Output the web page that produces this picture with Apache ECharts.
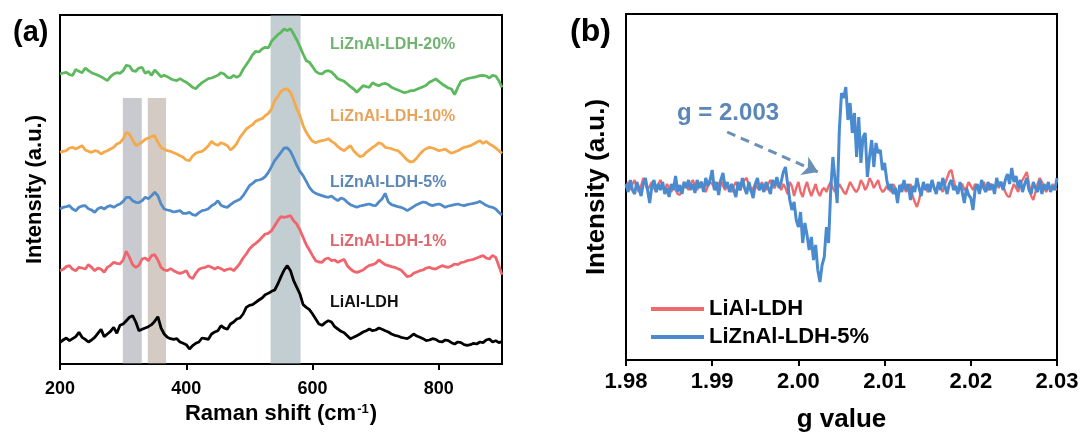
<!DOCTYPE html>
<html>
<head>
<meta charset="utf-8">
<script src="https://cdn.jsdelivr.net/npm/echarts@6/dist/echarts.min.js"></script>
<style>
  html, body { margin: 0; padding: 0; background: #fff; }
  #chart { width: 1081px; height: 432px; }
</style>
</head>
<body>
<div id="chart"></div>
<script>
// ---- (a) Raman spectra (offset intensity, arb. units) ----
const ramanShift = [
  200, 205, 210, 215, 220, 225, 230, 235, 240, 245,
  250, 255, 260, 265, 270, 275, 280, 285, 290, 295,
  300, 305, 310, 315, 320, 325, 330, 335, 340, 345,
  350, 355, 360, 365, 370, 375, 380, 385, 390, 395,
  400, 405, 410, 415, 420, 425, 430, 435, 440, 445,
  450, 455, 460, 465, 470, 475, 480, 485, 490, 495,
  500, 505, 510, 515, 520, 525, 530, 535, 540, 545,
  550, 555, 560, 565, 570, 575, 580, 585, 590, 595,
  600, 605, 610, 615, 620, 625, 630, 635, 640, 645,
  650, 655, 660, 665, 670, 675, 680, 685, 690, 695,
  700, 705, 710, 715, 720, 725, 730, 735, 740, 745,
  750, 755, 760, 765, 770, 775, 780, 785, 790, 795,
  800, 805, 810, 815, 820, 825, 830, 835, 840, 845,
  850, 855, 860, 865, 870, 875, 880, 885, 890, 895,
  900
];
const ramanLiAl = [
  65, 72, 78, 70, 76, 82, 95, 80, 74, 66,
  72, 80, 92, 104, 82, 90, 98, 110, 92, 116,
  120, 130, 140, 145, 126, 100, 104, 108, 112, 118,
  128, 142, 108, 90, 80, 76, 74, 76, 66, 62,
  58, 45, 55, 62, 66, 78, 76, 74, 90, 96,
  100, 115, 108, 104, 120, 126, 135, 138, 150, 170,
  176, 178, 185, 192, 198, 208, 212, 218, 222, 240,
  262, 282, 295, 280, 250, 230, 210, 178, 170, 163,
  150, 135, 120, 116, 124, 130, 126, 112, 105, 98,
  94, 85, 76, 80, 85, 90, 96, 100, 105, 100,
  102, 108, 104, 100, 96, 90, 86, 84, 80, 78,
  76, 82, 90, 84, 80, 76, 70, 72, 76, 74,
  68, 66, 72, 70, 64, 60, 66, 64, 58, 56,
  58, 62, 60, 66, 64, 72, 75, 66, 70, 64,
  67
];
const raman1 = [
  280, 284, 292, 295, 284, 280, 290, 288, 285, 298,
  290, 280, 288, 284, 275, 290, 296, 305, 302, 300,
  312, 338, 320, 298, 290, 296, 315, 318, 310, 325,
  328, 312, 290, 282, 280, 286, 280, 275, 272, 275,
  280, 262, 256, 272, 284, 288, 290, 294, 290, 285,
  290, 286, 280, 284, 286, 280, 290, 302, 318, 330,
  345, 355, 362, 370, 380, 390, 392, 400, 415, 430,
  442, 440, 442, 445, 430, 420, 402, 380, 358, 342,
  325, 310, 306, 305, 315, 318, 310, 312, 305, 310,
  314, 295, 285, 278, 275, 278, 282, 290, 296, 298,
  302, 312, 305, 298, 295, 292, 290, 286, 282, 272,
  262, 264, 272, 276, 280, 282, 288, 290, 286, 285,
  290, 295, 292, 290, 294, 300, 298, 304, 306, 310,
  312, 314, 318, 322, 325, 318, 315, 326, 320, 295,
  268
];
const raman5 = [
  465, 470, 472, 475, 465, 460, 470, 474, 475, 466,
  462, 455, 466, 470, 465, 472, 475, 470, 476, 480,
  488, 500, 500, 490, 485, 484, 490, 500, 496, 505,
  515, 505, 480, 465, 462, 460, 456, 458, 460, 452,
  452, 455, 448, 446, 454, 460, 462, 466, 475, 480,
  490, 476, 472, 470, 478, 485, 490, 494, 505, 520,
  535, 542, 550, 552, 555, 562, 575, 592, 610, 622,
  635, 648, 648, 638, 618, 596, 578, 565, 548, 530,
  518, 512, 508, 505, 502, 500, 504, 496, 490, 498,
  494, 485, 478, 474, 470, 474, 476, 478, 480, 476,
  475, 486, 495, 512, 486, 478, 475, 472, 470, 466,
  460, 466, 472, 478, 482, 486, 484, 478, 475, 478,
  480, 476, 470, 474, 476, 478, 480, 477, 475, 478,
  480, 482, 484, 488, 482, 476, 472, 470, 465, 455,
  447
];
const raman10 = [
  635, 638, 640, 648, 650, 645, 650, 655, 642, 638,
  635, 640, 638, 630, 636, 640, 645, 650, 660, 664,
  675, 695, 690, 672, 655, 660, 666, 674, 678, 682,
  685, 665, 650, 644, 640, 638, 634, 630, 625, 620,
  612, 610, 624, 632, 636, 638, 645, 655, 668, 660,
  656, 664, 660, 655, 642, 650, 662, 680, 692, 705,
  712, 718, 728, 733, 736, 745, 752, 765, 790, 802,
  818, 824, 825, 815, 792, 765, 745, 715, 695, 680,
  668, 664, 668, 670, 672, 676, 668, 662, 652, 645,
  640, 648, 655, 640, 630, 622, 625, 635, 642, 650,
  656, 664, 660, 650, 648, 646, 642, 640, 632, 622,
  612, 606, 608, 618, 630, 640, 646, 650, 648, 644,
  640, 642, 645, 638, 632, 636, 640, 645, 650, 652,
  655, 660, 665, 670, 662, 668, 660, 655, 648, 640,
  632
];
const raman20 = [
  870, 873, 875, 868, 866, 884, 878, 874, 888, 880,
  874, 870, 866, 862, 856, 850, 862, 870, 874, 872,
  880, 896, 894, 880, 878, 888, 890, 872, 878, 866,
  882, 872, 862, 866, 862, 856, 852, 850, 856, 850,
  845, 838, 830, 826, 836, 844, 850, 856, 858, 862,
  866, 874, 870, 860, 858, 866, 860, 866, 884, 898,
  912, 928, 938, 936, 945, 950, 948, 968, 978, 988,
  995, 1005, 1000, 1006, 990, 972, 952, 930, 910, 905,
  892, 878, 872, 870, 878, 880, 876, 866, 856, 852,
  848, 840, 832, 825, 815, 825, 835, 832, 830, 844,
  838, 835, 840, 842, 838, 830, 826, 822, 818, 814,
  816, 820, 820, 824, 828, 832, 836, 845, 850, 855,
  848, 840, 834, 828, 825, 808, 830, 848, 852, 856,
  858, 860, 862, 865, 866, 864, 858, 866, 864, 850,
  830
];
const ramanNames = ['LiAl-LDH', 'LiZnAl-LDH-1%', 'LiZnAl-LDH-5%', 'LiZnAl-LDH-10%', 'LiZnAl-LDH-20%'];
// shaded bands (cm-1)
const bandStart = [299.5, 339, 533.5];
const bandEnd = [329.5, 368, 581];

// ---- (b) EPR spectra ----
const gValue = [
  1.98, 1.98025, 1.9805, 1.98075, 1.981, 1.98125, 1.9815, 1.98175,
  1.982, 1.98225, 1.9825, 1.98275, 1.983, 1.98325, 1.9835, 1.98375,
  1.984, 1.98425, 1.9845, 1.98475, 1.985, 1.98525, 1.9855, 1.98575,
  1.986, 1.98625, 1.9865, 1.98675, 1.987, 1.98725, 1.9875, 1.98775,
  1.988, 1.98825, 1.9885, 1.98875, 1.989, 1.98925, 1.9895, 1.98975,
  1.99, 1.99025, 1.9905, 1.99075, 1.991, 1.99125, 1.9915, 1.99175,
  1.992, 1.99225, 1.9925, 1.99275, 1.993, 1.99325, 1.9935, 1.99375,
  1.994, 1.99425, 1.9945, 1.99475, 1.995, 1.99525, 1.9955, 1.99575,
  1.996, 1.99625, 1.9965, 1.99675, 1.997, 1.99725, 1.9975, 1.99775,
  1.998, 1.99825, 1.9985, 1.99875, 1.999, 1.99925, 1.9995, 1.99975,
  2.0, 2.00025, 2.0005, 2.00075, 2.001, 2.00125, 2.0015, 2.00175,
  2.002, 2.00225, 2.0025, 2.00275, 2.003, 2.00325, 2.0035, 2.00375,
  2.004, 2.00425, 2.0045, 2.00475, 2.005, 2.00525, 2.0055, 2.00575,
  2.006, 2.00625, 2.0065, 2.00675, 2.007, 2.00725, 2.0075, 2.00775,
  2.008, 2.00825, 2.0085, 2.00875, 2.009, 2.00925, 2.0095, 2.00975,
  2.01, 2.01025, 2.0105, 2.01075, 2.011, 2.01125, 2.0115, 2.01175,
  2.012, 2.01225, 2.0125, 2.01275, 2.013, 2.01325, 2.0135, 2.01375,
  2.014, 2.01425, 2.0145, 2.01475, 2.015, 2.01525, 2.0155, 2.01575,
  2.016, 2.01625, 2.0165, 2.01675, 2.017, 2.01725, 2.0175, 2.01775,
  2.018, 2.01825, 2.0185, 2.01875, 2.019, 2.01925, 2.0195, 2.01975,
  2.02, 2.02025, 2.0205, 2.02075, 2.021, 2.02125, 2.0215, 2.02175,
  2.022, 2.02225, 2.0225, 2.02275, 2.023, 2.02325, 2.0235, 2.02375,
  2.024, 2.02425, 2.0245, 2.02475, 2.025, 2.02525, 2.0255, 2.02575,
  2.026, 2.02625, 2.0265, 2.02675, 2.027, 2.02725, 2.0275, 2.02775,
  2.028, 2.02825, 2.0285, 2.02875, 2.029, 2.02925, 2.0295, 2.02975,
  2.03
];
const eprLiAl = [
  172, 178, 170, 176, 180, 172, 168, 174, 182, 176,
  170, 174, 178, 172, 168, 176, 180, 174, 170, 176,
  172, 168, 174, 170, 166, 165, 172, 178, 174, 170,
  176, 180, 174, 170, 176, 178, 172, 168, 174, 178,
  176, 172, 170, 176, 180, 174, 170, 176, 172, 168,
  174, 178, 172, 170, 176, 180, 182, 174, 168, 172,
  176, 172, 170, 178, 174, 170, 176, 180, 174, 172,
  178, 174, 170, 176, 172, 166, 178, 174, 164, 172,
  178, 168, 163, 172, 178, 170, 164, 170, 176, 168,
  164, 170, 172, 168, 174, 178, 172, 168, 170, 176,
  172, 168, 166, 172, 178, 174, 170, 168, 172, 180,
  176, 170, 174, 182, 178, 172, 176, 180, 172, 168,
  170, 174, 172, 168, 176, 172, 166, 170, 176, 172,
  168, 172, 176, 164, 158, 153, 160, 170, 176, 172,
  168, 174, 178, 172, 170, 176, 172, 168, 176, 182,
  188, 190, 180, 172, 168, 174, 176, 170, 172, 178,
  174, 170, 176, 172, 168, 174, 178, 172, 170, 176,
  174, 170, 176, 172, 178, 174, 168, 164, 163, 170,
  176, 172, 168, 176, 180, 184, 188, 176, 164, 160,
  168, 176, 182, 178, 172, 168, 174, 170, 176, 172,
  170
];
const eprLiZnAl5 = [
  176, 168, 180, 170, 166, 178, 172, 164, 176, 182,
  170, 157, 174, 180, 168, 176, 170, 178, 166, 172,
  163, 176, 170, 184, 168, 175, 166, 178, 172, 180,
  170, 176, 167, 180, 172, 178, 168, 182, 174, 180,
  190, 170, 178, 165, 180, 187, 172, 178, 168, 176,
  170, 163, 178, 170, 182, 172, 166, 178, 170, 162,
  176, 182, 170, 176, 168, 178, 172, 166, 180, 174,
  183, 172, 178, 188, 193, 176, 160, 150, 158, 140,
  133, 148, 117, 137, 125, 110, 123, 100, 115, 90,
  78, 95, 103, 133, 117, 170, 203, 180, 157, 230,
  267, 262, 273, 240, 257, 227, 247, 203, 243, 197,
  223, 227, 183, 203, 220, 193, 217, 207, 210, 190,
  197, 180, 170, 176, 166, 172, 157, 175, 168, 180,
  170, 176, 160, 174, 168, 182, 172, 164, 178, 170,
  176, 168, 180, 172, 166, 178, 170, 182, 174, 166,
  176, 180, 170, 174, 166, 178, 168, 157, 172, 165,
  162, 150, 170, 176, 166, 180, 172, 168, 178, 170,
  176, 166, 182, 174, 178, 170, 180, 186, 176, 192,
  178, 184, 172, 180, 168, 176, 182, 170, 166, 178,
  172, 168, 180, 166, 176, 170, 178, 168, 174, 170,
  182
];
const eprNames = ['LiAl-LDH', 'LiZnAl-LDH-5%'];
const gTicks = [1.98, 1.99, 2.0, 2.01, 2.02, 2.03];
// dashed arrow pointing at the g = 2.003 signal
const arrowFrom = [1.99173, 228];
const arrowTo = [2.00228, 188];

const FONT = 'Liberation Sans, Arial, Helvetica, sans-serif';
const ramanColors = ['#000000', '#f2646c', '#4f8bc9', '#f6a94a', '#5db95d'];
const labelColors = ['#111111', '#e0666e', '#5b87b8', '#e8a35c', '#72b372'];
// translucent, so the spectra show through tinted as in the figure
const bandColors = ['rgba(135,135,150,0.45)', 'rgba(160,140,125,0.45)', 'rgba(135,158,165,0.5)'];

const chart = echarts.init(document.getElementById('chart'));
const pairs = (xs, ys) => xs.map((x, i) => [x, ys[i]]);

const ramanData = [ramanLiAl, raman1, raman5, raman10, raman20];

const series = [
  {
    // bands only
    type: 'line', xAxisIndex: 0, yAxisIndex: 0, data: [], silent: true, z: 1,
    markArea: {
      silent: true,
      data: [
        [{ xAxis: bandStart[0], yAxis: 0, itemStyle: { color: bandColors[0] } }, { xAxis: bandEnd[0], yAxis: 798 }],
        [{ xAxis: bandStart[1], yAxis: 0, itemStyle: { color: bandColors[1] } }, { xAxis: bandEnd[1], yAxis: 798 }],
        [{ xAxis: bandStart[2], yAxis: 0, itemStyle: { color: bandColors[2] } }, { xAxis: bandEnd[2], yAxis: 1047 }]
      ]
    }
  }
];
ramanData.forEach((ys, k) => {
  series.push({
    name: 'Raman ' + ramanNames[k],
    type: 'line', xAxisIndex: 0, yAxisIndex: 0,
    data: pairs(ramanShift, ys),
    showSymbol: false, symbol: 'none', silent: true, z: 3,
    lineStyle: { color: ramanColors[k], width: 2.8 },
    itemStyle: { color: ramanColors[k] }
  });
});
series.push({
  name: eprNames[0],
  type: 'line', xAxisIndex: 1, yAxisIndex: 1,
  data: pairs(gValue, eprLiAl),
  showSymbol: false, symbol: 'none', silent: true, z: 3,
  lineStyle: { color: '#ef6a6c', width: 2.4 },
  itemStyle: { color: '#ef6a6c' }
});
series.push({
  name: eprNames[1],
  type: 'line', xAxisIndex: 1, yAxisIndex: 1,
  data: pairs(gValue, eprLiZnAl5),
  showSymbol: false, symbol: 'none', silent: true, z: 4,
  lineStyle: { color: '#4a8bd0', width: 3 },
  itemStyle: { color: '#4a8bd0' },
  markLine: {
    silent: true,
    symbol: ['none', 'arrow'],
    symbolSize: 15,
    label: { show: false },
    lineStyle: { color: '#6a90b8', width: 3, type: [9, 6] },
    data: [[{ coord: arrowFrom }, { coord: arrowTo }]]
  }
});

const labelTops = [295, 233.5, 175, 108.5, 37];
const graphic = ramanNames.map((t, k) => ({
  type: 'text', left: 330, top: labelTops[k], silent: true,
  style: { text: t, fill: labelColors[k], font: 'bold 16px ' + FONT }
}));
graphic.push(
  { type: 'text', left: 13, top: 18, style: { text: '(a)', fill: '#000', font: 'bold 29px ' + FONT } },
  { type: 'text', left: 570, top: 16, style: { text: '(b)', fill: '#000', font: 'bold 32px ' + FONT } },
  { type: 'text', left: 677, top: 101, style: { text: 'g = 2.003', fill: '#5a87b8', font: 'bold 24px ' + FONT } }
);

const axisLineStyle = { show: true, lineStyle: { color: '#000', width: 2 } };

chart.setOption({
  animation: false,
  backgroundColor: '#fff',
  textStyle: { fontFamily: FONT },
  grid: [
    { left: 60, top: 15, width: 442, height: 349, outerBoundsMode: 'none', show: true, borderColor: '#000', borderWidth: 2, backgroundColor: 'transparent' },
    { left: 626, top: 14, width: 431, height: 346, outerBoundsMode: 'none', show: true, borderColor: '#000', borderWidth: 2, backgroundColor: 'transparent' }
  ],
  legend: {
    data: eprNames,
    orient: 'vertical',
    left: 646, top: 293,
    icon: 'rect', itemWidth: 53, itemHeight: 4, itemGap: 6,
    textStyle: { color: '#000', fontSize: 22, fontWeight: 'bold', fontFamily: FONT },
    selectedMode: false
  },
  xAxis: [
    {
      gridIndex: 0, type: 'value', min: 200, max: 900, interval: 200,
      axisLine: axisLineStyle,
      axisTick: { show: true, inside: false, length: 6, lineStyle: { width: 2, color: '#000' }, customValues: [200, 400, 600, 800] },
      axisLabel: { color: '#000', fontSize: 18, fontWeight: 'bold', margin: 16, customValues: [200, 400, 600, 800] },
      splitLine: { show: false },
      name: '{a|Raman shift (cm}{s|-1}{a|)}',
      nameLocation: 'middle', nameGap: 38,
      nameTextStyle: {
        rich: {
          a: { fontSize: 22, fontWeight: 'bold', color: '#000', fontFamily: FONT },
          s: { fontSize: 13, fontWeight: 'bold', color: '#000', fontFamily: FONT, padding: [0, 1, 10, 1] }
        }
      }
    },
    {
      gridIndex: 1, type: 'value', min: 1.98, max: 2.03,
      axisLine: axisLineStyle,
      axisTick: { show: true, inside: false, length: 6, lineStyle: { width: 2, color: '#000' }, customValues: gTicks },
      axisLabel: { color: '#000', fontSize: 22, fontWeight: 'bold', margin: 11, customValues: gTicks, formatter: v => v.toFixed(2) },
      splitLine: { show: false },
      name: 'g value', nameLocation: 'middle', nameGap: 47,
      nameTextStyle: { fontSize: 26, fontWeight: 'bold', color: '#000' }
    }
  ],
  yAxis: [
    {
      gridIndex: 0, type: 'value', min: 0, max: 1047,
      axisLine: axisLineStyle, axisTick: { show: false }, axisLabel: { show: false }, splitLine: { show: false },
      name: 'Intensity (a.u.)', nameLocation: 'middle', nameGap: 14,
      nameTextStyle: { fontSize: 22, fontWeight: 'bold', color: '#000' }
    },
    {
      gridIndex: 1, type: 'value', min: 0, max: 346,
      axisLine: axisLineStyle, axisTick: { show: false }, axisLabel: { show: false }, splitLine: { show: false },
      name: 'Intensity (a.u.)', nameLocation: 'middle', nameGap: 16,
      nameTextStyle: { fontSize: 26, fontWeight: 'bold', color: '#000' }
    }
  ],
  graphic: graphic,
  series: series
});
</script>
</body>
</html>
